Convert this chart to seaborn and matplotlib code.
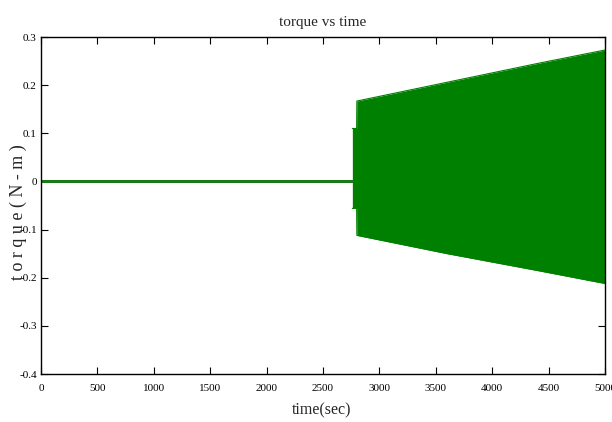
import numpy as np
import pandas as pd
import matplotlib
matplotlib.use("Agg")
import matplotlib.pyplot as plt
import seaborn as sns

# Torque envelope (N-m) over time (sec)
idle_time = [0, 2760]
idle_torque = [0.0, 0.0]

env_time = [2760, 2798, 2800, 3600, 4400, 5000]
env_upper = [0.110, 0.110, 0.167, 0.206, 0.245, 0.273]
env_lower = [-0.056, -0.056, -0.112, -0.150, -0.185, -0.212]

x_ticks = [0, 500, 1000, 1500, 2000, 2500, 3000, 3500, 4000, 4500, 5000]
y_ticks = [-0.4, -0.3, -0.2, -0.1, 0, 0.1, 0.2, 0.3]
y_tick_labels = ["-0.4", "-0.3", "-0.2", "-0.1", "0", "0.1", "0.2", "0.3"]

sns.set_style("white")
plt.rcParams["font.family"] = ["Liberation Serif", "DejaVu Serif"]

fig = plt.figure(figsize=(6.12, 4.22), dpi=100)
ax = fig.add_axes([0.067, 0.1137, 0.9216, 0.7986])

idle = pd.DataFrame({"t": idle_time, "torque": idle_torque})
env = pd.DataFrame({"t": env_time, "upper": env_upper, "lower": env_lower})

sns.lineplot(data=idle, x="t", y="torque", ax=ax, color="#1a7a1a", lw=2.2)
ax.fill_between(env["t"], env["lower"], env["upper"], color="#008000", lw=0)
sns.lineplot(data=env, x="t", y="upper", ax=ax, color="#008000", lw=0.8)
sns.lineplot(data=env, x="t", y="lower", ax=ax, color="#008000", lw=0.8)

ax.set_xlim(0, 5000)
ax.set_ylim(-0.4, 0.3)
ax.set_xticks(x_ticks)
ax.set_xticklabels([str(v) for v in x_ticks], fontsize=8)
ax.set_yticks(y_ticks)
ax.set_yticklabels(y_tick_labels, fontsize=8)
ax.tick_params(direction="in", length=5, width=0.8, top=True, right=True,
               bottom=True, left=True, colors="black")
ax.tick_params(axis="x", pad=7)
ax.tick_params(axis="y", pad=3)
for s in ax.spines.values():
    s.set_visible(True)
    s.set_color("black")
    s.set_linewidth(1.0)

ax.set_title("torque vs time", fontsize=11, pad=8)
ax.set_xlabel("time(sec)", fontsize=11.5)
ax.xaxis.set_label_coords(0.497, -0.083)
ax.set_ylabel("t o r q u e ( N - m )", fontsize=13)
ax.yaxis.set_label_coords(-0.025, 0.48)

fig.savefig("out.png", dpi=100)
